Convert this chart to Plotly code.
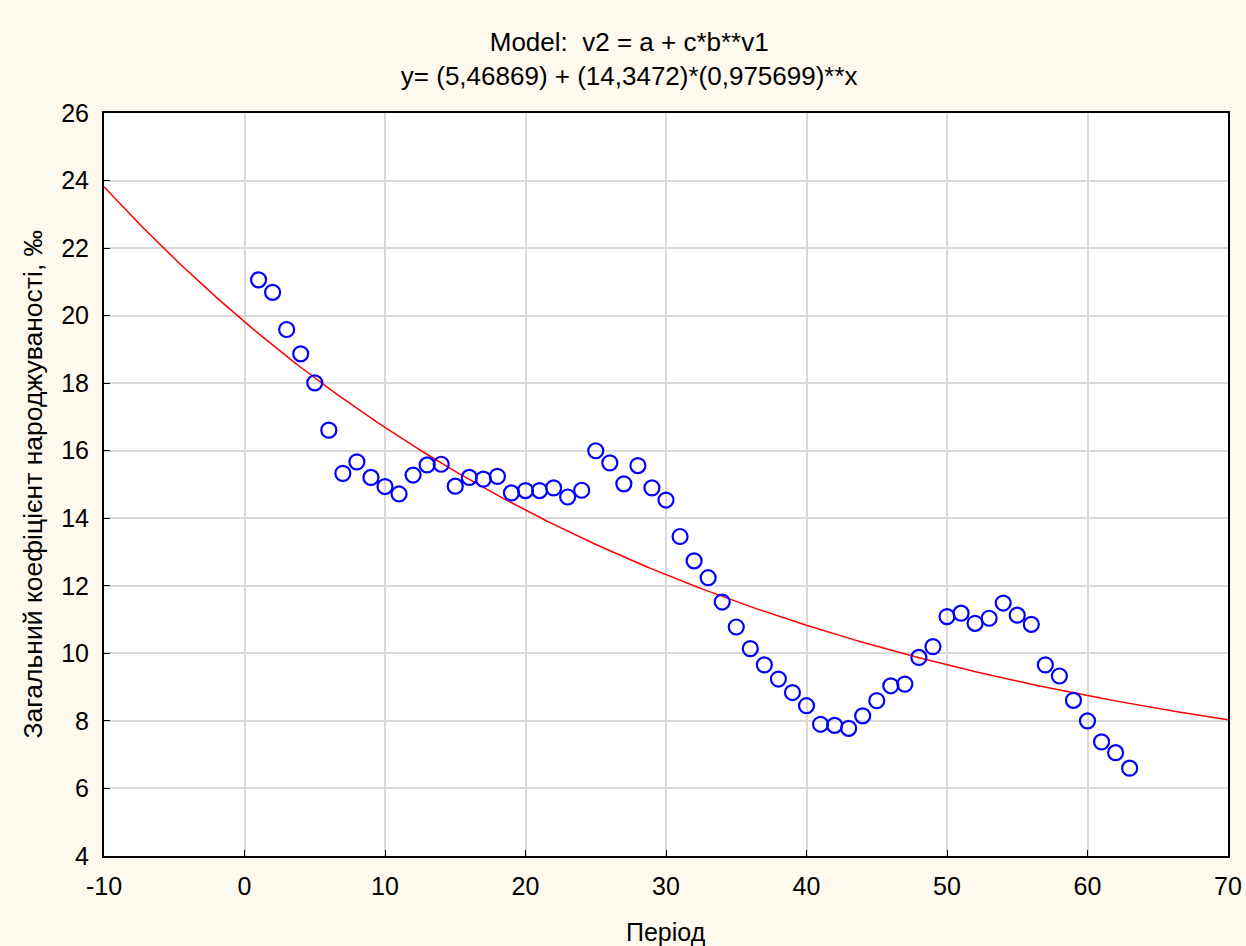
import numpy as np
import plotly.graph_objects as go

# Observed data (period vs crude birth rate, ‰)
period = list(range(1, 64))
birth_rate = [
    21.06, 20.69, 19.59, 18.87, 18.01, 16.61, 15.33, 15.67, 15.21, 14.94,
    14.72, 15.28, 15.58, 15.60, 14.95, 15.21, 15.16, 15.24, 14.75, 14.82,
    14.82, 14.90, 14.63, 14.83, 16.00, 15.64, 15.02, 15.56, 14.90, 14.54,
    13.46, 12.74, 12.24, 11.52, 10.78, 10.14, 9.66, 9.24, 8.84, 8.45,
    7.90, 7.87, 7.78, 8.15, 8.60, 9.04, 9.09, 9.88, 10.20, 11.09,
    11.19, 10.89, 11.04, 11.49, 11.13, 10.86, 9.66, 9.33, 8.61, 8.00,
    7.38, 7.06, 6.60,
]

# Fitted model parameters: y = a + c * b**x
a_param = 5.46869
c_param = 14.3472
b_param = 0.975699

x_range = [-10, 70]
y_range = [4, 26]
x_ticks = [-10, 0, 10, 20, 30, 40, 50, 60, 70]
y_ticks = [4, 6, 8, 10, 12, 14, 16, 18, 20, 22, 24, 26]

title_line1 = "Model:  v2 = a + c*b**v1"
title_line2 = "y= (5,46869) + (14,3472)*(0,975699)**x"
x_title = "Період"
y_title = "Загальний коефіцієнт народжуваності, ‰"

curve_x = np.linspace(x_range[0], x_range[1], 400)
curve_y = a_param + c_param * b_param ** curve_x

font_family = "Liberation Sans, Arial, sans-serif"

fig = go.Figure()
fig.add_trace(go.Scatter(
    x=curve_x, y=curve_y, mode="lines",
    line=dict(color="#FF0000", width=1.5),
    hoverinfo="skip", showlegend=False,
))
fig.add_trace(go.Scatter(
    x=period, y=birth_rate, mode="markers",
    marker=dict(symbol="circle-open", size=15, color="#0000FF",
                line=dict(width=2.2, color="#0000FF")),
    showlegend=False,
))

fig.update_layout(
    width=1246, height=946,
    margin=dict(l=104, r=18, t=113, b=90, autoexpand=False),
    paper_bgcolor="#FDF9EF",
    plot_bgcolor="#FFFFFF",
    font=dict(family=font_family, size=25, color="#000000"),
    title=dict(
        text=title_line1 + "<br>" + title_line2,
        x=0.505, xanchor="center", y=0.946, yanchor="top",
        font=dict(size=26),
    ),
    xaxis=dict(
        range=x_range, tickvals=x_ticks, ticktext=[str(v) for v in x_ticks],
        showgrid=True, gridcolor="#D9D9D9", gridwidth=1.5,
        showline=True, linecolor="#000000", linewidth=2, mirror=True,
        ticks="inside", ticklen=6, tickcolor="#000000", tickwidth=1,
        ticklabelstandoff=7, automargin=False,
        zeroline=False,
    ),
    yaxis=dict(
        range=y_range, tickvals=y_ticks, ticktext=[str(v) for v in y_ticks],
        showgrid=True, gridcolor="#D9D9D9", gridwidth=1.5,
        showline=True, linecolor="#000000", linewidth=2, mirror=True,
        ticks="inside", ticklen=6, tickcolor="#000000", tickwidth=1,
        ticklabelstandoff=8, automargin=False,
        zeroline=False,
    ),
    annotations=[
        dict(text=x_title, xref="paper", yref="paper", x=0.5, y=0,
             xanchor="center", yanchor="middle", yshift=-76,
             showarrow=False, font=dict(size=25)),
        dict(text=y_title, xref="paper", yref="paper", x=0, y=0.5,
             xanchor="center", yanchor="middle", xshift=-72, textangle=-90,
             showarrow=False, font=dict(size=26.5)),
    ],
)

fig.write_html("out.html")
